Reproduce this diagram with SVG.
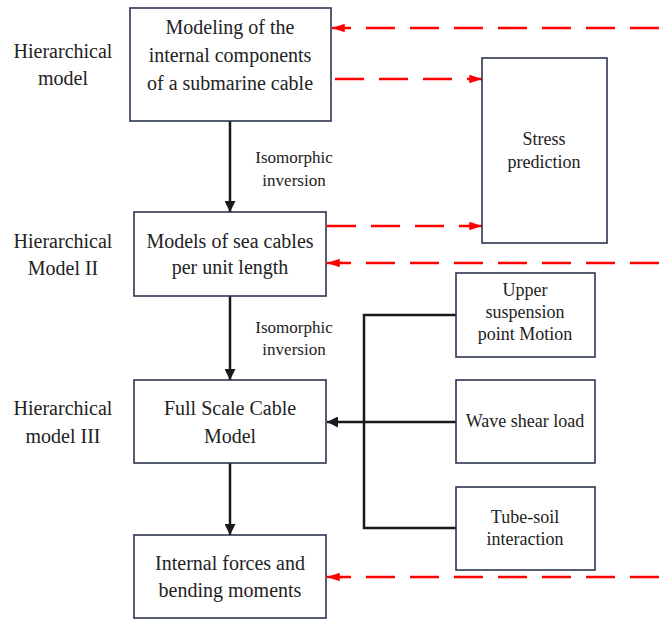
<svg xmlns="http://www.w3.org/2000/svg" width="659" height="619" viewBox="0 0 659 619">
<defs>
<style>
.box{fill:#fff;stroke:#2e3550;stroke-width:1.6}
.blk{fill:none;stroke:#1a1a1a;stroke-width:2.5}
.red{fill:none;stroke:#ff0000;stroke-width:2.5;stroke-dasharray:29 15}
</style>
<marker id="ab" viewBox="0 0 10 10" refX="10" refY="5" markerWidth="4.4" markerHeight="4.4" orient="auto" markerUnits="strokeWidth">
<path d="M0,0 L10,5 L0,10 z" fill="#1a1a1a"/>
</marker>
<marker id="ar" viewBox="0 0 12 8" refX="12" refY="4" markerWidth="5.2" markerHeight="3.4" orient="auto" markerUnits="strokeWidth">
<path d="M0,0 L12,4 L0,8 z" fill="#ff0000"/>
</marker>
</defs>
<rect width="659" height="619" fill="#fff"/>

<g id="labels" fill="#222" text-anchor="middle">
<text x="63" y="58" style="font-family:'Liberation Serif',serif;font-size:20px">Hierarchical</text>
<text x="63" y="85" style="font-family:'Liberation Serif',serif;font-size:20px">model</text>
<text x="63" y="248" style="font-family:'Liberation Serif',serif;font-size:20px">Hierarchical</text>
<text x="63" y="275" style="font-family:'Liberation Serif',serif;font-size:20px">Model II</text>
<text x="63" y="415" style="font-family:'Liberation Serif',serif;font-size:20px">Hierarchical</text>
<text x="63" y="443" style="font-family:'Liberation Serif',serif;font-size:20px">model III</text>
</g>

<g id="connectors">
<line class="blk" x1="230" y1="121" x2="230" y2="212" marker-end="url(#ab)"/>
<line class="blk" x1="230" y1="296" x2="230" y2="380" marker-end="url(#ab)"/>
<line class="blk" x1="230" y1="463" x2="230" y2="535" marker-end="url(#ab)"/>
<polyline class="blk" points="456,315 364,315 364,528 456,528"/>
<line class="blk" x1="456" y1="422" x2="327" y2="422" marker-end="url(#ab)"/>
<line class="red" x1="659" y1="28" x2="332" y2="28" marker-end="url(#ar)"/>
<line class="red" x1="335" y1="79" x2="482" y2="79" marker-end="url(#ar)"/>
<line class="red" x1="327" y1="226" x2="482" y2="226" marker-end="url(#ar)"/>
<line class="red" x1="659" y1="263" x2="327" y2="263" marker-end="url(#ar)"/>
<line class="red" x1="659" y1="577" x2="327" y2="577" marker-end="url(#ar)"/>
<g fill="#222" text-anchor="middle">
<text x="294" y="163" style="font-family:'Liberation Serif',serif;font-size:17px">Isomorphic</text>
<text x="294" y="186" style="font-family:'Liberation Serif',serif;font-size:17px">inversion</text>
<text x="294" y="333" style="font-family:'Liberation Serif',serif;font-size:17px">Isomorphic</text>
<text x="294" y="355" style="font-family:'Liberation Serif',serif;font-size:17px">inversion</text>
</g>
</g>

<g id="n1" fill="#222" text-anchor="middle">
<rect class="box" x="130" y="8" width="201" height="113"/>
<text x="230" y="34" style="font-family:'Liberation Serif',serif;font-size:20px">Modeling of the</text>
<text x="230" y="62" style="font-family:'Liberation Serif',serif;font-size:20px">internal components</text>
<text x="230" y="90" style="font-family:'Liberation Serif',serif;font-size:20px">of a submarine cable</text>
</g>
<g id="n2" fill="#222" text-anchor="middle">
<rect class="box" x="134" y="212" width="192" height="84"/>
<text x="230" y="248" style="font-family:'Liberation Serif',serif;font-size:20px">Models of sea cables</text>
<text x="230" y="274" style="font-family:'Liberation Serif',serif;font-size:20px">per unit length</text>
</g>
<g id="n3" fill="#222" text-anchor="middle">
<rect class="box" x="134" y="380" width="192" height="83"/>
<text x="230" y="415" style="font-family:'Liberation Serif',serif;font-size:20px">Full Scale Cable</text>
<text x="230" y="443" style="font-family:'Liberation Serif',serif;font-size:20px">Model</text>
</g>
<g id="n4" fill="#222" text-anchor="middle">
<rect class="box" x="134" y="535" width="192" height="83"/>
<text x="230" y="570" style="font-family:'Liberation Serif',serif;font-size:20px">Internal forces and</text>
<text x="230" y="597" style="font-family:'Liberation Serif',serif;font-size:20px">bending moments</text>
</g>
<g id="n5" fill="#222" text-anchor="middle">
<rect class="box" x="482" y="58" width="125" height="185"/>
<text x="544" y="145" style="font-family:'Liberation Serif',serif;font-size:18px">Stress</text>
<text x="544" y="168" style="font-family:'Liberation Serif',serif;font-size:18px">prediction</text>
</g>
<g id="n6" fill="#222" text-anchor="middle">
<rect class="box" x="456" y="273" width="139" height="84"/>
<text x="525" y="296" style="font-family:'Liberation Serif',serif;font-size:18px">Upper</text>
<text x="525" y="318" style="font-family:'Liberation Serif',serif;font-size:18px">suspension</text>
<text x="525" y="340" style="font-family:'Liberation Serif',serif;font-size:18px">point Motion</text>
</g>
<g id="n7" fill="#222" text-anchor="middle">
<rect class="box" x="456" y="380" width="139" height="83"/>
<text x="525" y="427" style="font-family:'Liberation Serif',serif;font-size:18px">Wave shear load</text>
</g>
<g id="n8" fill="#222" text-anchor="middle">
<rect class="box" x="456" y="487" width="139" height="83"/>
<text x="525" y="523" style="font-family:'Liberation Serif',serif;font-size:18px">Tube-soil</text>
<text x="525" y="545" style="font-family:'Liberation Serif',serif;font-size:18px">interaction</text>
</g>
</svg>
